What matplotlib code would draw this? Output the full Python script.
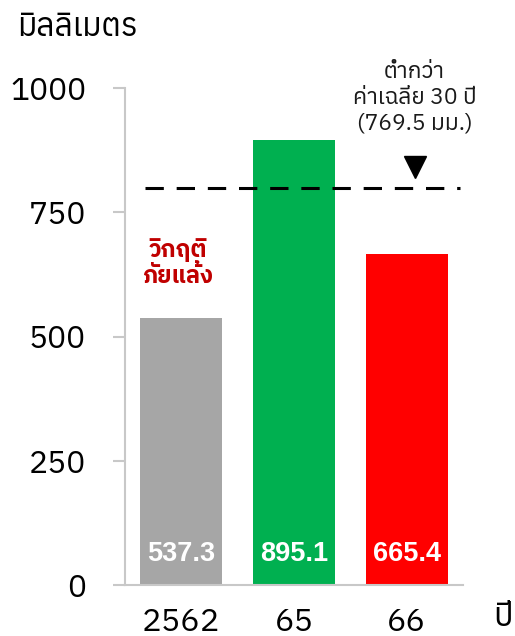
import matplotlib
matplotlib.use("Agg")
import matplotlib.pyplot as plt

plt.rcParams['font.family'] = ['Anuphan', 'Noto Sans Thai', 'DejaVu Sans']

years = ["2562", "65", "66"]
rain = [537.3, 895.1, 665.4]
colors = ["#A6A6A6", "#00B050", "#FF0000"]
avg_drawn = 799          # where the dashed line sits in the picture
avg_label = "ต่ำกว่า\nค่าเฉลี่ย 30 ปี\n(769.5 มม.)"
yticks = [0, 250, 500, 750, 1000]

fig = plt.figure(figsize=(5.15, 6.36), dpi=100)
ax = fig.add_axes([125/515, 1-585/636, 338/515, (585-88)/636])

x = range(len(years))
ax.bar(x, rain, width=0.73, color=colors, zorder=2)
for i, v in enumerate(rain):
    ax.text(i, 62, "%.1f" % v, ha="center", va="center", color="white",
            fontsize=19.5, fontweight="bold", family=["Liberation Sans", "DejaVu Sans"], zorder=3)

ax.axhline(avg_drawn, xmin=0.06, xmax=0.99, color="black", lw=2.2,
           dashes=(6, 4.2), zorder=4)
ax.plot([2.07], [avg_drawn + 43], marker="v", color="black", markersize=16,
        clip_on=False, zorder=5)
ax.text(2.07, 980, avg_label, ha="center", va="center", fontsize=16.5,
        linespacing=1.22, color="#1a1a1a")
ax.text(-0.03, 648, "วิกฤติ\nภัยแล้ง", ha="center", va="center", color="#C00000",
        fontsize=17, fontweight="bold", linespacing=1.15,
        family=["IBM Plex Sans Thai", "Noto Sans Thai"])

ax.set_xlim(-0.5, 2.5)
ax.set_ylim(0, 1000)
ax.set_xticks(list(x))
ax.set_xticklabels(years)
ax.set_yticks(yticks)
ax.tick_params(axis="x", length=0, pad=16, labelsize=23.5)
ax.tick_params(axis="y", length=9, width=1.5, color="#C8C8C8", pad=19, labelsize=23)
for s in ["top", "right"]:
    ax.spines[s].set_visible(False)
for s in ["left", "bottom"]:
    ax.spines[s].set_color("#C8C8C8")
    ax.spines[s].set_linewidth(1.5)

fig.text(17/515, 1-27/636, "มิลลิเมตร", ha="left", va="center", fontsize=23)
fig.text(513/515, 1-617/636, "ปี", ha="right", va="center", fontsize=23.5)

fig.savefig("out.png")
